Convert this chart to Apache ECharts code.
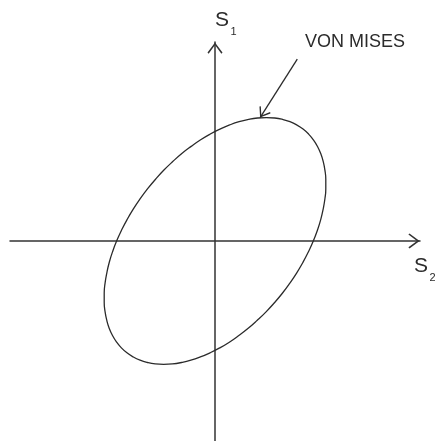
<!DOCTYPE html>
<html>
<head>
<meta charset="utf-8">
<script src="https://cdn.jsdelivr.net/npm/echarts@6/dist/echarts.min.js"></script>
<style>
  html, body { margin: 0; padding: 0; background: #ffffff; }
  #chart { width: 435px; height: 441px; }
</style>
</head>
<body>
<div id="chart"></div>
<script>
// Von Mises yield locus in the principal stress plane (S2 horizontal, S1 vertical),
// in units of the yield stress (the locus meets each axis near 1).
const vonMisesS2 = [
  -0.690, -0.766, -0.836, -0.900, -0.957, -1.007, -1.049, -1.083, -1.108, -1.126, -1.135, -1.135,
  -1.126, -1.109, -1.084, -1.050, -1.008, -0.959, -0.902, -0.838, -0.768, -0.693, -0.612, -0.526,
  -0.436, -0.343, -0.247, -0.150, -0.051, 0.048, 0.147, 0.244, 0.340, 0.433, 0.523, 0.609,
  0.690, 0.766, 0.836, 0.900, 0.957, 1.007, 1.049, 1.083, 1.108, 1.126, 1.135, 1.135,
  1.126, 1.109, 1.084, 1.050, 1.008, 0.959, 0.902, 0.838, 0.768, 0.693, 0.612, 0.526,
  0.436, 0.343, 0.247, 0.150, 0.051, -0.048, -0.147, -0.244, -0.340, -0.433, -0.523, -0.609,
  -0.690
];
const vonMisesS1 = [
  0.481, 0.389, 0.295, 0.198, 0.100, 0.001, -0.098, -0.196, -0.293, -0.388, -0.479, -0.567,
  -0.651, -0.729, -0.802, -0.869, -0.930, -0.983, -1.029, -1.067, -1.097, -1.118, -1.131, -1.135,
  -1.131, -1.118, -1.097, -1.067, -1.029, -0.984, -0.931, -0.870, -0.804, -0.730, -0.652, -0.568,
  -0.481, -0.389, -0.295, -0.198, -0.100, -0.001, 0.098, 0.196, 0.293, 0.388, 0.479, 0.567,
  0.651, 0.729, 0.802, 0.869, 0.930, 0.983, 1.029, 1.067, 1.097, 1.118, 1.131, 1.135,
  1.131, 1.118, 1.097, 1.067, 1.029, 0.984, 0.931, 0.870, 0.804, 0.730, 0.652, 0.568,
  0.481
];

// Callout pointing at the locus
const calloutText = 'VON MISES';
const calloutFrom = [0.843, 1.672];
const calloutTo = [0.462, 1.135];

// Axis labels
const axisLabelS1 = ['S', '1'];
const axisLabelS2 = ['S', '2'];

const locus = vonMisesS2.map((s2, i) => [s2, vonMisesS1[i]]);

// Open chevron arrowhead, drawn pointing up
const chevron = 'path://M8,0L16,10.8L14.8,12L8,2.8L1.2,12L0,10.8Z';
const ink = '#2b2b2b';
const font = '"Liberation Sans", Arial, sans-serif';

const axisLine = {
  show: true,
  onZero: true,
  symbol: ['none', chevron],
  symbolSize: [15, 12],
  symbolOffset: [0, -6],
  lineStyle: { color: '#333333', width: 1.5 }
};

const chart = echarts.init(document.getElementById('chart'), null, { renderer: 'canvas' });
chart.setOption({
  animation: false,
  backgroundColor: '#ffffff',
  grid: { left: 10, width: 410, top: 42, height: 402 },
  xAxis: {
    type: 'value', min: -2.1, max: 2.1,
    axisLine: axisLine,
    axisTick: { show: false }, axisLabel: { show: false }, splitLine: { show: false }
  },
  yAxis: {
    type: 'value', min: -1.84, max: 1.83,
    axisLine: axisLine,
    axisTick: { show: false }, axisLabel: { show: false }, splitLine: { show: false }
  },
  series: [{
    type: 'line',
    data: locus,
    smooth: 0.5,
    symbol: 'none',
    silent: true,
    lineStyle: { color: ink, width: 1.3 },
    markLine: {
      silent: true,
      symbol: ['none', chevron],
      symbolSize: [13, 10],
      symbolOffset: [[0, 0], [0, 5]],
      label: { show: false },
      lineStyle: { color: ink, width: 1.3, type: 'solid' },
      data: [[{ coord: calloutFrom }, { coord: calloutTo }]]
    }
  }],
  graphic: [
    { type: 'text', left: 215, top: 10, style: { text: axisLabelS1[0], font: '21px ' + font, fill: ink } },
    { type: 'text', left: 230.5, top: 26, style: { text: axisLabelS1[1], font: '11px ' + font, fill: ink } },
    { type: 'text', left: 414, top: 256, style: { text: axisLabelS2[0], font: '21px ' + font, fill: ink } },
    { type: 'text', left: 429.5, top: 272, style: { text: axisLabelS2[1], font: '11px ' + font, fill: ink } },
    { type: 'text', left: 305, top: 33.5, style: { text: calloutText, font: '18px ' + font, fill: ink } }
  ]
});
</script>
</body>
</html>
